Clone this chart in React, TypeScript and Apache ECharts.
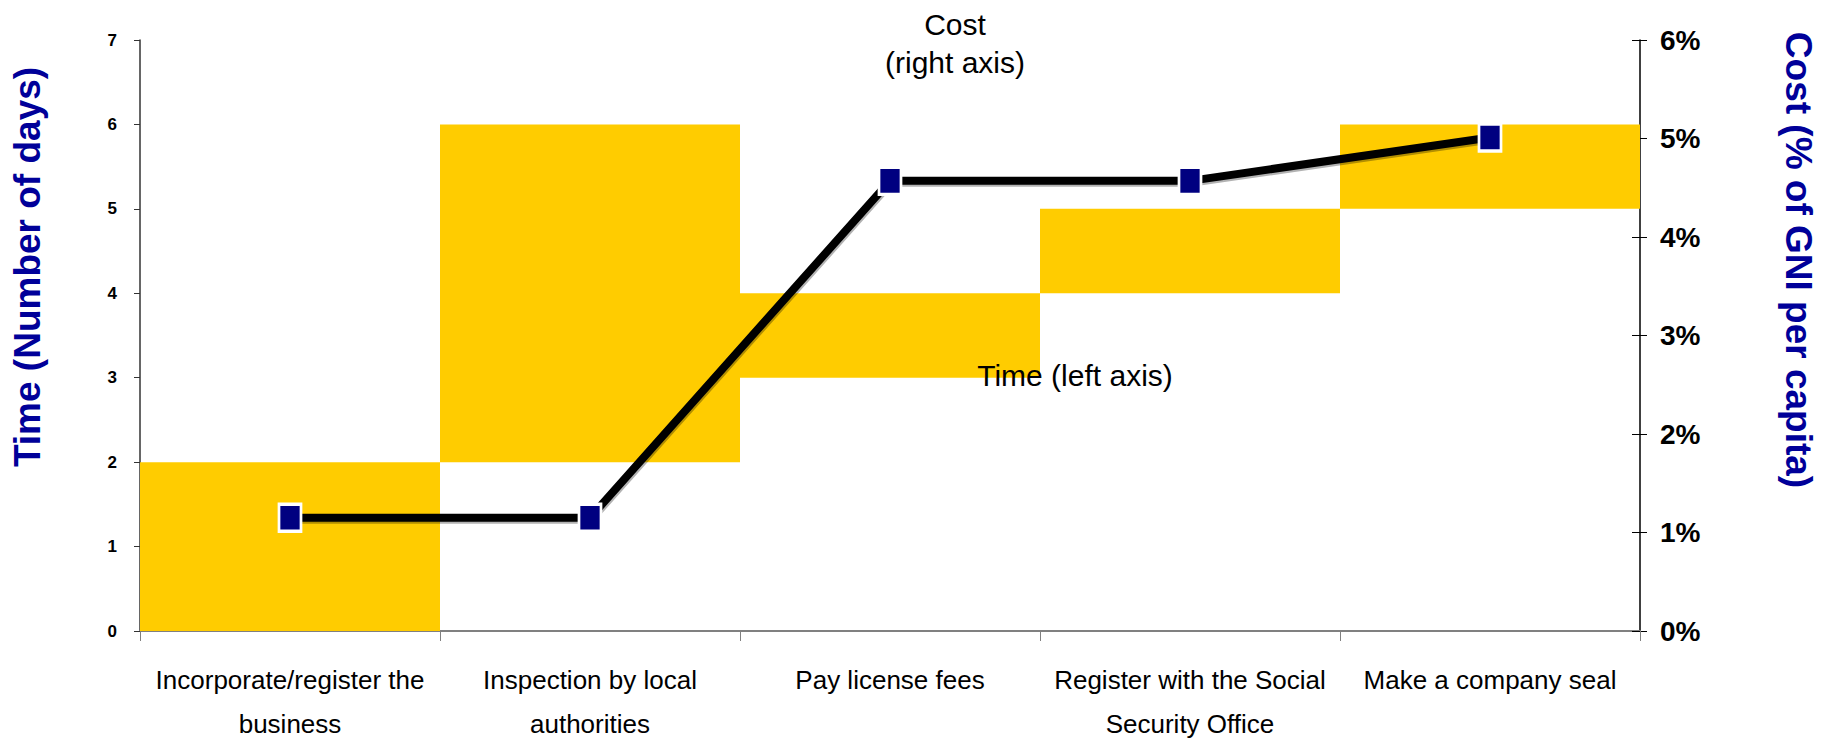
import React, { useEffect, useRef } from "react";
import * as echarts from "echarts";

const categories = [
  "Incorporate/register the\nbusiness",
  "Inspection by local\nauthorities",
  "Pay license fees",
  "Register with the Social\nSecurity Office",
  "Make a company seal",
];
const timeStart = [0, 2, 3, 4, 5];
const timeDays = [2, 4, 1, 1, 1];
const costPct = [1.15, 1.15, 4.57, 4.57, 5.01];

const FONT = '"Liberation Sans", Arial, Helvetica, sans-serif';

export default function App() {
  const ref = useRef<HTMLDivElement>(null);
  useEffect(() => {
    if (!ref.current) return;
    const chart = echarts.init(ref.current, undefined, { renderer: "svg" });
    chart.setOption({
      animation: false,
      backgroundColor: "#ffffff",
      textStyle: { fontFamily: FONT },
      grid: { left: 140, right: 187, top: 40, bottom: 112, containLabel: false },
      xAxis: {
        type: "category",
        data: categories,
        boundaryGap: true,
        axisLine: { lineStyle: { color: "#808080", width: 2 } },
        axisTick: { show: true, length: 10, lineStyle: { color: "#808080", width: 1 } },
        axisLabel: {
          interval: 0,
          fontSize: 26,
          lineHeight: 44,
          margin: 27,
          color: "#000000",
          fontFamily: FONT,
        },
        splitLine: { show: false },
      },
      yAxis: [
        {
          type: "value",
          position: "left",
          min: 0,
          max: 7,
          interval: 1,
          axisLine: { show: true, lineStyle: { color: "#333333", width: 1.5 } },
          axisTick: { show: true, length: 6, lineStyle: { color: "#333333" } },
          axisLabel: {
            fontSize: 17,
            fontWeight: "bold",
            color: "#000000",
            margin: 23,
            fontFamily: FONT,
          },
          splitLine: { show: false },
        },
        {
          type: "value",
          position: "right",
          min: 0,
          max: 6,
          interval: 1,
          axisLine: { show: true, lineStyle: { color: "#000000", width: 1.5 } },
          axisTick: { show: true, length: 7, lineStyle: { color: "#000000" } },
          axisLabel: {
            formatter: "{value}%",
            fontSize: 28,
            fontWeight: "bold",
            color: "#000000",
            margin: 20,
            fontFamily: FONT,
          },
          splitLine: { show: false },
        },
        {
          type: "value",
          position: "right",
          min: 0,
          max: 6,
          interval: 1,
          axisLine: { show: false },
          axisTick: { show: true, inside: true, length: 8, lineStyle: { color: "#000000" } },
          axisLabel: { show: false },
          splitLine: { show: false },
        },
      ],
      series: [
        {
          name: "start",
          type: "bar",
          stack: "time",
          yAxisIndex: 0,
          data: timeStart,
          itemStyle: { color: "transparent" },
          barWidth: "100%",
          barCategoryGap: 0,
          silent: true,
        },
        {
          name: "Time (left axis)",
          type: "bar",
          stack: "time",
          yAxisIndex: 0,
          data: timeDays,
          itemStyle: { color: "#FFCC00" },
          barWidth: "100%",
          barCategoryGap: 0,
        },
        {
          name: "Cost (right axis)",
          type: "line",
          yAxisIndex: 1,
          data: costPct,
          z: 5,
          symbol: "rect",
          symbolSize: [22, 27],
          lineStyle: {
            color: "#000000",
            width: 8,
            shadowColor: "rgba(0,0,0,0.3)",
            shadowOffsetX: 1,
            shadowOffsetY: 2,
            shadowBlur: 1,
          },
          itemStyle: { color: "#000080", borderColor: "#ffffff", borderWidth: 3 },
        },
      ],
      graphic: [
        {
          type: "text",
          x: 27,
          y: 267,
          z: 100,
          rotation: Math.PI / 2,
          style: {
            text: "Time (Number of days)",
            fontSize: 37,
            fontWeight: "bold",
            fill: "#000099",
            fontFamily: FONT,
            textAlign: "center",
            textVerticalAlign: "middle",
          },
        },
        {
          type: "text",
          x: 1798,
          y: 260,
          z: 100,
          rotation: -Math.PI / 2,
          style: {
            text: "Cost (% of GNI per capita)",
            fontSize: 37,
            fontWeight: "bold",
            fill: "#000099",
            fontFamily: FONT,
            textAlign: "center",
            textVerticalAlign: "middle",
          },
        },
        {
          type: "text",
          x: 955,
          y: 5,
          z: 100,
          style: {
            text: "Cost\n(right axis)",
            fontSize: 30,
            lineHeight: 38,
            fill: "#000000",
            fontFamily: FONT,
            textAlign: "center",
            textVerticalAlign: "top",
          },
        },
        {
          type: "text",
          x: 1075,
          y: 375,
          z: 100,
          style: {
            text: "Time (left axis)",
            fontSize: 30,
            fill: "#000000",
            fontFamily: FONT,
            textAlign: "center",
            textVerticalAlign: "middle",
          },
        },
      ],
    });
    return () => chart.dispose();
  }, []);
  return (
    <div
      ref={ref}
      style={{ position: "fixed", left: 0, top: 0, width: "1827px", height: "746px" }}
    />
  );
}
